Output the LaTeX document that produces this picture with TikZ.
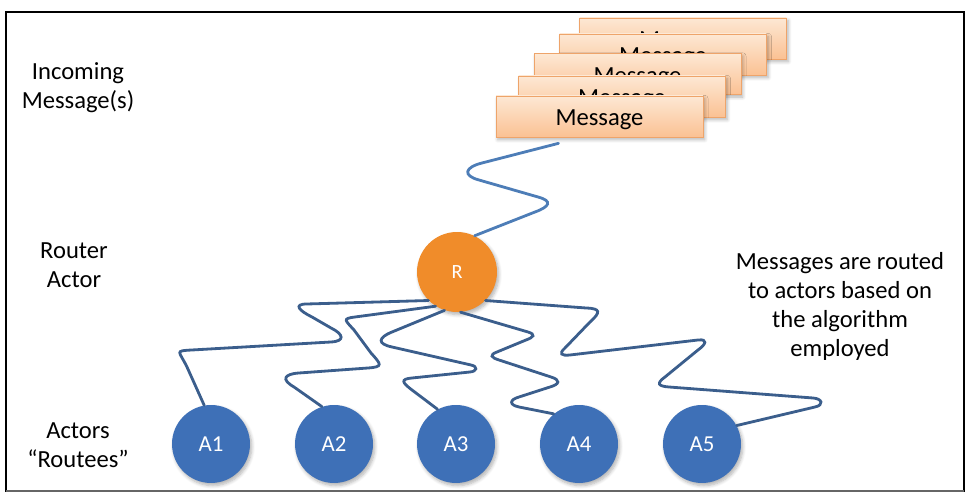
\documentclass[tikz,border=0pt]{standalone}
\usepackage{fontspec}
\setmainfont{Carlito}
\usetikzlibrary{calc,shadows.blur}

\definecolor{actorblue}{HTML}{3E70B7}
\definecolor{routerorange}{HTML}{F08C2A}
\definecolor{msgtop}{HTML}{FDE8D4}
\definecolor{msgbottom}{HTML}{FBC193}
\definecolor{msgedge}{HTML}{EEA46A}
\definecolor{wireblue}{HTML}{3B5E8C}
\definecolor{wirelight}{HTML}{4D7DB7}

\tikzset{
  softshadow/.style={blur shadow={shadow xshift=1pt,shadow yshift=-1.5pt,
      shadow blur steps=6,shadow opacity=30}},
  actor/.style={circle,fill=actorblue,text=white,minimum size=1.56cm,
      inner sep=0pt,font=\fontsize{13}{15}\selectfont,softshadow},
  router/.style={circle,fill=routerorange,text=white,minimum size=1.6cm,
      inner sep=0pt,font=\fontsize{11.5}{13}\selectfont,softshadow},
  msgbox/.style={draw=msgedge,top color=msgtop,bottom color=msgbottom,
      minimum width=4.14cm,minimum height=0.82cm,inner sep=0pt,
      text height=10.5pt,text depth=0pt,
      font=\fontsize{14}{16}\selectfont,softshadow},
  sidetext/.style={align=center,font=\fontsize{14}{16.5}\selectfont},
  wire/.style={draw=wireblue,line width=1.6pt,line cap=round},
  hairpin/.style={looseness=2.6}
}

\begin{document}
\begin{tikzpicture}[x=0.02cm,y=-0.02cm]
    \useasboundingbox (0,0) rectangle (978,502);

    % Frame
    \draw[line width=0.9pt] (6,12) rectangle (964,491);
    \draw[gray!80!black,line width=1.4pt] (6,491) -- (964,491);

    %==================== Side texts ====================
    \node[sidetext] (tin) at (78,88) {Incoming\\Message(s)};
    \node[sidetext] (trouter) at (74,265) {Router\\Actor};
    \node[sidetext] (tactors) at (78,445) {Actors\\“Routees”};
    \node[sidetext] (tnote) at (840,306)
      {Messages are routed\\to actors based on\\the algorithm\\employed};

    %==================== Incoming messages ====================
    \foreach \i/\x/\y in {5/683/38.5,4/663/54.5,3/637.5/74,2/622/96.5,1/599.5/116.5} {
      \node[msgbox] (m\i) at (\x,\y) {Message};
    }

    %==================== Router and routees ====================
    \node[router] (r) at (457,272) {R};

    \foreach \i/\x in {1/211,2/334,3/456,4/579,5/702} {
      \node[actor] (a\i) at (\x,444) {A\i};
    }

    % Message into the router
    \draw[wire,draw=wirelight] ($(m1.south)+(-41,6)$) -- (482,163)
      to[hairpin,out=194,in=165] (479,180) -- (538,197)
      to[hairpin,out=345,in=20] (535,212) -- (r.64);

    % Router to routees
    \draw[wire] (r.225) -- (307,304)
      to[hairpin,out=180,in=154] (312,317) -- (331,328)
      to[hairpin,out=334,in=3] (331,342) -- (192,350)
      to[hairpin,out=183,in=116] (187,367) -- (a1.100);

    \draw[wire] (r.238) -- (355,317)
      to[hairpin,out=187,in=132] (354,330) -- (371,353)
      to[hairpin,out=312,in=4] (368,368) -- (299,373)
      to[hairpin,out=184,in=150] (294,387) -- (a2.108);

    \draw[wire] (r.252) -- (392,332)
      to[hairpin,out=202,in=168] (392,347) -- (471,365)
      to[hairpin,out=348,in=5] (470,372) -- (412,378)
      to[hairpin,out=185,in=143] (412,390) -- (a3.118);

    \draw[wire] (r.275) -- (528,332)
      to[hairpin,out=343,in=20] (526,340) -- (497,352)
      to[hairpin,out=200,in=163] (499,360) -- (551,377)
      to[hairpin,out=343,in=16] (550,387) -- (519,397)
      to[hairpin,out=196,in=168] (519,407) -- (a4.130);

    \draw[wire] (r.315) -- (586,308)
      to[hairpin,out=358,in=42] (590,322) -- (565,348)
      to[hairpin,out=222,in=186] (570,355) -- (698,340)
      to[hairpin,out=6,in=36] (698,350) -- (665,377)
      to[hairpin,out=216,in=176] (669,387) -- (813,398)
      to[hairpin,out=356,in=12] (815,407) -- (a5.28);

\end{tikzpicture}
\end{document}
